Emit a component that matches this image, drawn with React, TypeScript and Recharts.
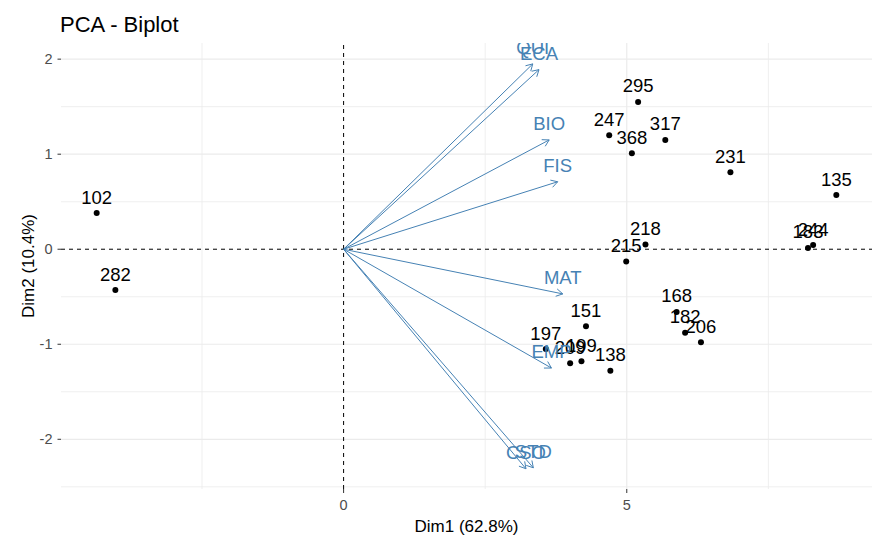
import { ScatterChart, Scatter, XAxis, YAxis, ReferenceLine } from 'recharts';

// individuals (rows)
const indNames = ['102', '282', '295', '247', '368', '317', '231', '135', '218', '215', '183', '244', '151', '197', '209', '199', '138', '168', '182', '206'];
const indDim1 = [-4.36, -4.03, 5.2, 4.69, 5.09, 5.68, 6.83, 8.7, 5.33, 4.99, 8.2, 8.29, 4.28, 3.57, 4.0, 4.2, 4.71, 5.88, 6.03, 6.31];
const indDim2 = [0.38, -0.43, 1.55, 1.2, 1.01, 1.15, 0.81, 0.57, 0.05, -0.13, 0.013, 0.044, -0.81, -1.05, -1.2, -1.18, -1.28, -0.66, -0.88, -0.98];

// variables (arrows)
const varNames = ['QUI', 'ECA', 'BIO', 'FIS', 'MAT', 'EMP', 'CSO', 'STD'];
const varDim1 = [3.34, 3.45, 3.63, 3.78, 3.87, 3.67, 3.22, 3.35];
const varDim2 = [1.95, 1.89, 1.15, 0.71, -0.47, -1.25, -2.31, -2.3];

const xTicks = [0, 5];
const yTicks = [-2, -1, 0, 1, 2];
const xMajor = [5];
const xMinor = [-2.5, 2.5, 7.5];
const yMajor = [-2, -1, 1, 2];
const yMinor = [-2.5, -1.5, -0.5, 0.5, 1.5];

const individuals = indNames.map((name, i) => ({ name, x: indDim1[i], y: indDim2[i] }));
const variables = varNames.map((name, i) => ({ name, x: varDim1[i], y: varDim2[i] }));

const FONT = '"Liberation Sans", Arial, sans-serif';
const BLUE = '#4682B4';

const Arrow = (props: any) => {
    const { x1, y1, x2, y2 } = props;
    const ang = Math.atan2(y2 - y1, x2 - x1);
    const len = 7.5;
    const a1 = ang + Math.PI - Math.PI / 6;
    const a2 = ang + Math.PI + Math.PI / 6;
    const p1 = `${x2 + len * Math.cos(a1)},${y2 + len * Math.sin(a1)}`;
    const p2 = `${x2 + len * Math.cos(a2)},${y2 + len * Math.sin(a2)}`;
    return (
        <g>
            <line x1={x1} y1={y1} x2={x2} y2={y2} stroke={BLUE} strokeWidth={1} />
            <polyline points={`${p1} ${x2},${y2} ${p2}`} fill="none" stroke={BLUE} strokeWidth={1} />
        </g>
    );
};

const Dot = (p: any) => <circle cx={p.cx} cy={p.cy} r={3} fill="#000" />;
const IndLabel = (p: any) => (
    <text x={p.cx} y={p.cy - 9.5} textAnchor="middle" fontSize={18.5} fill="#000" fontFamily={FONT}>{p.payload.name}</text>
);
const VarLabel = (p: any) => (
    <text x={p.cx} y={p.cy - 10} textAnchor="middle" fontSize={18.5} fill={BLUE} fontFamily={FONT}>{p.payload.name}</text>
);

export default function App() {
    return (
        <div style={{ position: 'absolute', left: 0, top: 0, width: 874, height: 548, fontFamily: FONT, background: '#fff' }}>
            <ScatterChart width={874} height={548} margin={{ top: 43, right: 2, bottom: 0, left: 0 }}>
                {xMinor.map((v) => <ReferenceLine key={'xm' + v} x={v} stroke="#EBEBEB" strokeWidth={0.8} />)}
                {yMinor.map((v) => <ReferenceLine key={'ym' + v} y={v} stroke="#EBEBEB" strokeWidth={0.8} />)}
                {xMajor.map((v) => <ReferenceLine key={'xM' + v} x={v} stroke="#EBEBEB" strokeWidth={1.2} />)}
                {yMajor.map((v) => <ReferenceLine key={'yM' + v} y={v} stroke="#EBEBEB" strokeWidth={1.2} />)}
                <XAxis
                    type="number"
                    dataKey="x"
                    domain={[-4.99, 9.33]}
                    allowDataOverflow
                    ticks={xTicks}
                    height={59}
                    axisLine={false}
                    tickSize={4}
                    tickMargin={7}
                    tickLine={{ stroke: '#333333' }}
                    tick={{ fill: '#4D4D4D', fontSize: 14.5 }}
                />
                <YAxis
                    type="number"
                    dataKey="y"
                    domain={[-2.523, 2.17]}
                    allowDataOverflow
                    ticks={yTicks}
                    width={61}
                    axisLine={false}
                    tickSize={3.5}
                    tickMargin={5}
                    tickLine={{ stroke: '#333333' }}
                    tick={{ fill: '#4D4D4D', fontSize: 14.5 }}
                />
                <ReferenceLine x={0} stroke="#000" strokeDasharray="4 4" strokeWidth={1} />
                <ReferenceLine y={0} stroke="#000" strokeDasharray="4 4" strokeWidth={1} />
                <Scatter data={individuals} shape={Dot} isAnimationActive={false} />
                <Scatter data={individuals} shape={IndLabel} isAnimationActive={false} />
                {variables.map((v) => (
                    <ReferenceLine key={v.name} segment={[{ x: 0, y: 0 }, { x: v.x, y: v.y }]} shape={Arrow} ifOverflow="visible" />
                ))}
                <Scatter data={variables} shape={VarLabel} isAnimationActive={false} />
            </ScatterChart>
            <svg width={874} height={548} style={{ position: 'absolute', left: 0, top: 0, pointerEvents: 'none' }}>
                <text x={60} y={32.3} fontSize={22} fill="#000" fontFamily={FONT}>PCA - Biplot</text>
                <text x={466.5} y={531.5} fontSize={17} textAnchor="middle" fill="#000" fontFamily={FONT}>Dim1 (62.8%)</text>
                <text x={34} y={266} fontSize={17} textAnchor="middle" fill="#000" fontFamily={FONT} transform="rotate(-90 34 266)">Dim2 (10.4%)</text>
            </svg>
        </div>
    );
}
